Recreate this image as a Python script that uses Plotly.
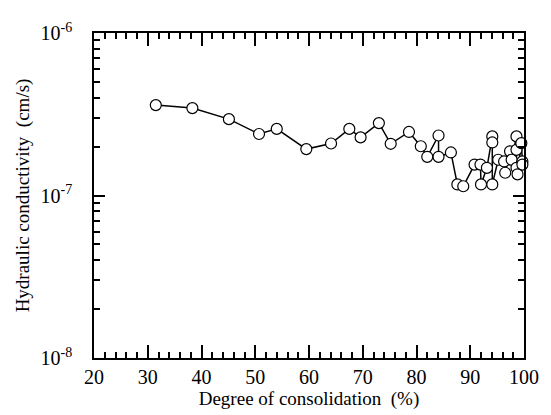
import plotly.graph_objects as go

consolidation = [31.5, 38.3, 45.1, 50.7, 54.0, 59.5, 64.1, 67.5, 69.6, 73.0,
                 75.2, 78.6, 80.8, 82.0, 84.1, 84.1, 86.4, 87.6, 88.7, 90.8,
                 91.9, 92.0, 93.1, 94.1, 94.1, 94.1, 95.2, 96.3, 96.5, 97.4,
                 97.7, 98.6, 98.6, 98.6, 98.8, 99.5, 99.7, 99.7]
conductivity = [3.6e-7, 3.45e-7, 2.95e-7, 2.39e-7, 2.57e-7, 1.93e-7, 2.09e-7, 2.57e-7, 2.28e-7, 2.79e-7,
                2.08e-7, 2.46e-7, 2.01e-7, 1.73e-7, 2.34e-7, 1.73e-7, 1.84e-7, 1.17e-7, 1.14e-7, 1.55e-7,
                1.55e-7, 1.17e-7, 1.48e-7, 2.31e-7, 2.12e-7, 1.17e-7, 1.66e-7, 1.62e-7, 1.38e-7, 1.87e-7,
                1.66e-7, 2.31e-7, 1.91e-7, 1.48e-7, 1.35e-7, 2.1e-7, 1.62e-7, 1.55e-7]

x_ticks = [20, 30, 40, 50, 60, 70, 80, 90, 100]
y_ticks = [1e-8, 1e-7, 1e-6]
y_ticktext = ["10<sup>-8</sup>", "10<sup>-7</sup>", "10<sup>-6</sup>"]
y_minor = [m * 10.0 ** e for e in (-8, -7) for m in range(2, 10)]

tick_font = dict(family="Liberation Serif", size=20, color="black")
title_font = dict(family="Liberation Serif", size=19, color="black")

fig = go.Figure()
fig.add_trace(go.Scatter(
    x=consolidation, y=conductivity, mode="lines+markers",
    line=dict(color="black", width=1.5),
    marker=dict(symbol="circle", size=11, color="white",
                line=dict(color="black", width=1.2)),
    cliponaxis=False, showlegend=False,
))

common = dict(ticks="inside", tickcolor="black", showgrid=False, zeroline=False,
              mirror="ticks", showline=True, linecolor="black", linewidth=1.5)

fig.update_layout(
    width=551, height=415,
    margin=dict(l=94, r=20, t=33, b=56),
    paper_bgcolor="white", plot_bgcolor="white",
    font=tick_font,
    xaxis=dict(range=[20, 100], tickmode="array", tickvals=x_ticks, ticklen=13, tickwidth=2,
               tickfont=tick_font, **common,
               minor=dict(dtick=2, ticks="inside", ticklen=6, tickwidth=1.6, tickcolor="black"),
               title=dict(text="Degree of consolidation  (%)", font=title_font, standoff=2)),
    yaxis=dict(type="log", range=[-8, -6], tickmode="array", tickvals=y_ticks,
               ticktext=y_ticktext, ticklen=11, tickwidth=2, tickfont=tick_font,
               ticklabelstandoff=16, **common,
               minor=dict(tickmode="array", tickvals=y_minor, ticks="inside", ticklen=6,
                          tickwidth=1.6, tickcolor="black"),
               title=dict(text="Hydraulic conductivity  (cm/s)", font=title_font, standoff=6)),
)
fig.write_html("out.html")
